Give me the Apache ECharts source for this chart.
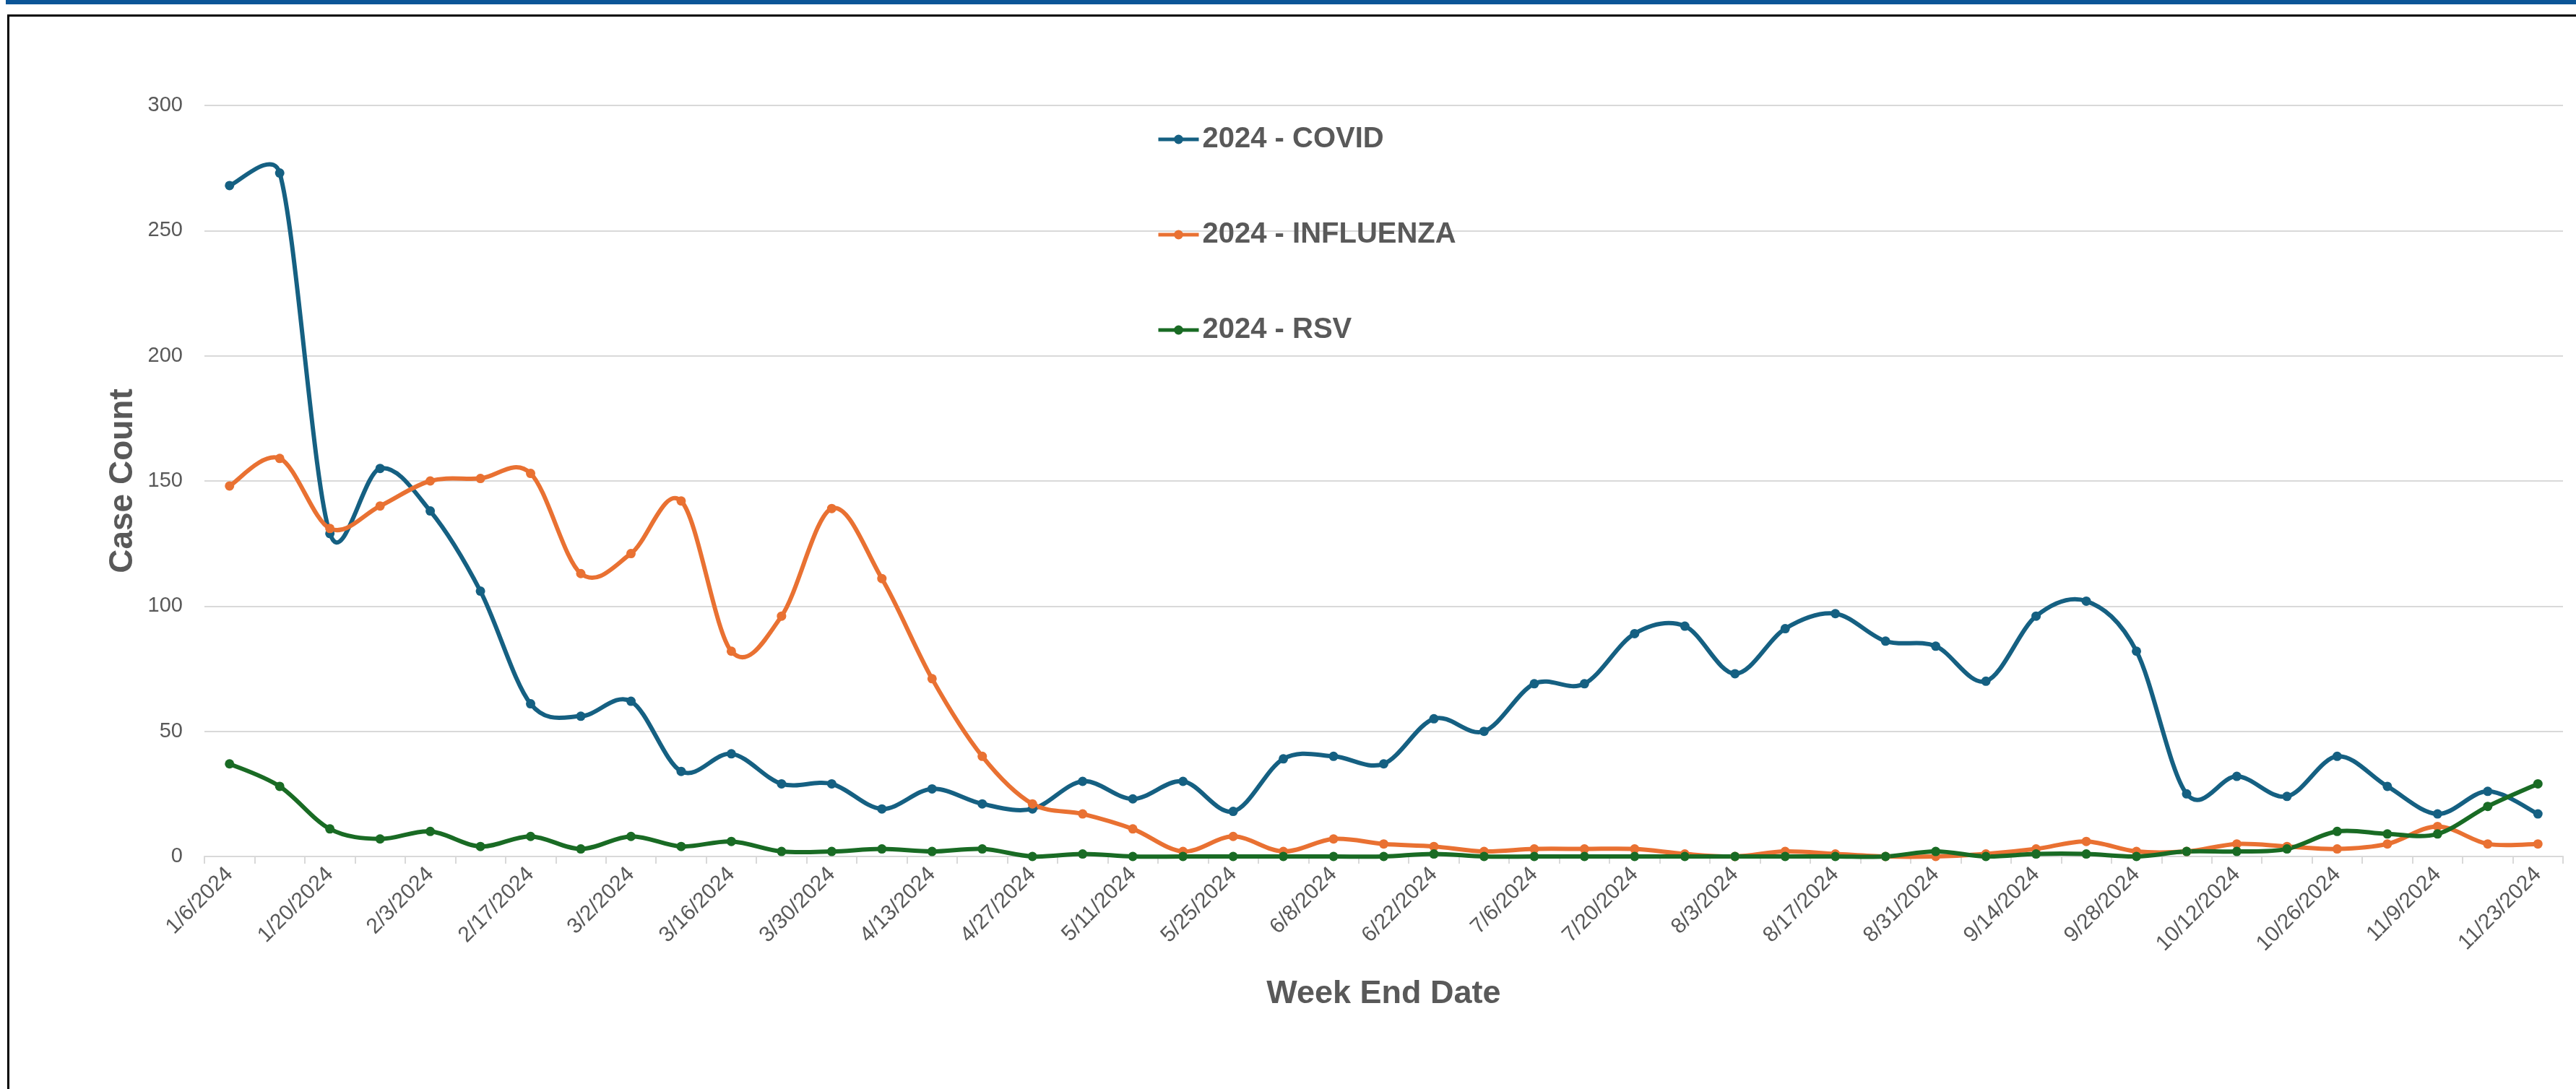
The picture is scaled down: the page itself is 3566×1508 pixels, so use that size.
<!DOCTYPE html>
<html>
<head>
<meta charset="utf-8">
<script src="https://cdn.jsdelivr.net/npm/echarts@6/dist/echarts.min.js"></script>
<style>
  html, body { margin: 0; padding: 0; background: #fff; }
  #chart { width: 3566px; height: 1508px; }
  .topbar { position: absolute; left: 8px; right: 0; top: 0; height: 6px; background: #0b5597; }
  .frame { position: absolute; left: 10px; top: 20px; width: 3600px; height: 1600px;
           border-left: 3px solid #000; border-top: 3px solid #000; pointer-events: none; }
</style>
</head>
<body>
<div class="topbar"></div>
<div class="frame"></div>
<div id="chart"></div>
<script>
// week end dates, 2024
const weeks = [
  '1/6/2024', '1/13/2024', '1/20/2024', '1/27/2024', '2/3/2024', '2/10/2024', '2/17/2024', '2/24/2024',
  '3/2/2024', '3/9/2024', '3/16/2024', '3/23/2024', '3/30/2024', '4/6/2024', '4/13/2024', '4/20/2024',
  '4/27/2024', '5/4/2024', '5/11/2024', '5/18/2024', '5/25/2024', '6/1/2024', '6/8/2024', '6/15/2024',
  '6/22/2024', '6/29/2024', '7/6/2024', '7/13/2024', '7/20/2024', '7/27/2024', '8/3/2024', '8/10/2024',
  '8/17/2024', '8/24/2024', '8/31/2024', '9/7/2024', '9/14/2024', '9/21/2024', '9/28/2024', '10/5/2024',
  '10/12/2024', '10/19/2024', '10/26/2024', '11/2/2024', '11/9/2024', '11/16/2024', '11/23/2024'
];

const covid = [
  268, 273, 129, 155, 138, 106, 61, 56, 62, 34,
  41, 29, 29, 19, 27, 21, 19, 30, 23, 30,
  18, 39, 40, 37, 55, 50, 69, 69, 89, 92,
  73, 91, 97, 86, 84, 70, 96, 102, 82, 25,
  32, 24, 40, 28, 17, 26, 17
];

const influenza = [
  148, 159, 131, 140, 150, 151, 153, 113, 121, 142,
  82, 96, 139, 111, 71, 40, 21, 17, 11, 2,
  8, 2, 7, 5, 4, 2, 3, 3, 3, 1,
  0, 2, 1, 0, 0, 1, 3, 6, 2, 2,
  5, 4, 3, 5, 12, 5, 5
];

const rsv = [
  37, 28, 11, 7, 10, 4, 8, 3, 8, 4,
  6, 2, 2, 3, 2, 3, 0, 1, 0, 0,
  0, 0, 0, 0, 1, 0, 0, 0, 0, 0,
  0, 0, 0, 0, 2, 0, 1, 1, 0, 2,
  2, 3, 10, 9, 9, 20, 29
];

const yTicks = { min: 0, max: 300, interval: 50 };

const FONT = '"Liberation Sans", Arial, sans-serif';
const GREY = '#595959';
const COLORS = { covid: '#156082', flu: '#E97132', rsv: '#196B24' };

// keep a control handle no longer than half of its segment
function clampHandle(dx, dy, segLen) {
  const len = Math.sqrt(dx * dx + dy * dy);
  const maxLen = segLen * 0.5;
  if (len > maxLen && len > 0) {
    const k = maxLen / len;
    return [dx * k, dy * k];
  }
  return [dx, dy];
}

// excel style smoothed line: catmull-rom bezier through the points (pixel coords from the axes)
function smoothCurve(values, color) {
  return {
    type: 'custom',
    silent: true,
    clip: false,
    z: 2,
    data: [[0, values[0]]],
    renderItem: function (params, api) {
      const p = values.map((v, i) => api.coord([i, v]));
      let d = 'M' + p[0][0] + ',' + p[0][1];
      for (let i = 0; i < p.length - 1; i++) {
        const p0 = p[i - 1] || p[i];
        const p1 = p[i];
        const p2 = p[i + 1];
        const p3 = p[i + 2] || p2;
        const seg = Math.hypot(p2[0] - p1[0], p2[1] - p1[1]);
        const h1 = clampHandle((p2[0] - p0[0]) / 6, (p2[1] - p0[1]) / 6, seg);
        const h2 = clampHandle((p3[0] - p1[0]) / 6, (p3[1] - p1[1]) / 6, seg);
        d += 'C' + (p1[0] + h1[0]) + ',' + (p1[1] + h1[1]) + ',' +
             (p2[0] - h2[0]) + ',' + (p2[1] - h2[1]) + ',' + p2[0] + ',' + p2[1];
      }
      return {
        type: 'path',
        shape: { pathData: d },
        style: { fill: 'none', stroke: color, lineWidth: 6, lineJoin: 'round', lineCap: 'round' }
      };
    }
  };
}

function markerSeries(name, data, color) {
  return {
    name: name,
    type: 'line',
    data: data,
    z: 3,
    symbol: 'circle',
    symbolSize: 13,
    showAllSymbol: true,
    lineStyle: { width: 5, color: color, opacity: 0 },
    itemStyle: { color: color },
    emphasis: { disabled: true }
  };
}

const chart = echarts.init(document.getElementById('chart'));
chart.setOption({
  animation: false,
  backgroundColor: 'transparent',
  textStyle: { fontFamily: FONT },
  grid: { left: 283, top: 146, width: 3265, height: 1040, containLabel: false },
  legend: {
    orient: 'vertical',
    left: 1596,
    top: 168,
    itemWidth: 56,
    itemHeight: 16,
    itemGap: 92,
    data: [
      { name: '2024 - COVID', lineStyle: { width: 5, opacity: 1, color: COLORS.covid } },
      { name: '2024 - INFLUENZA', lineStyle: { width: 5, opacity: 1, color: COLORS.flu } },
      { name: '2024 - RSV', lineStyle: { width: 5, opacity: 1, color: COLORS.rsv } }
    ],
    textStyle: { fontFamily: FONT, fontSize: 40, fontWeight: 'bold', color: GREY }
  },
  xAxis: {
    type: 'category',
    data: weeks,
    boundaryGap: true,
    name: 'Week End Date',
    nameLocation: 'middle',
    nameGap: 168,
    nameTextStyle: { fontFamily: FONT, fontSize: 45, fontWeight: 'bold', color: GREY, verticalAlign: 'top' },
    axisLine: { show: true, lineStyle: { color: '#d9d9d9', width: 2 } },
    axisTick: { show: true, interval: 0, length: 10, lineStyle: { color: '#d9d9d9', width: 2 } },
    axisLabel: { interval: 1, rotate: 45, margin: 20, fontSize: 30, color: GREY, fontFamily: FONT },
    splitLine: { show: false }
  },
  yAxis: {
    type: 'value',
    min: yTicks.min,
    max: yTicks.max,
    interval: yTicks.interval,
    name: 'Case Count',
    nameLocation: 'middle',
    nameGap: 90,
    nameRotate: 90,
    nameTextStyle: { fontFamily: FONT, fontSize: 46, fontWeight: 'bold', color: GREY },
    axisLine: { show: false },
    axisTick: { show: false },
    axisLabel: { fontSize: 29, color: GREY, margin: 30, fontFamily: FONT },
    splitLine: { lineStyle: { color: '#d9d9d9', width: 2 } }
  },
  series: [
    smoothCurve(covid, COLORS.covid),
    smoothCurve(influenza, COLORS.flu),
    smoothCurve(rsv, COLORS.rsv),
    markerSeries('2024 - COVID', covid, COLORS.covid),
    markerSeries('2024 - INFLUENZA', influenza, COLORS.flu),
    markerSeries('2024 - RSV', rsv, COLORS.rsv)
  ]
});
</script>
</body>
</html>
